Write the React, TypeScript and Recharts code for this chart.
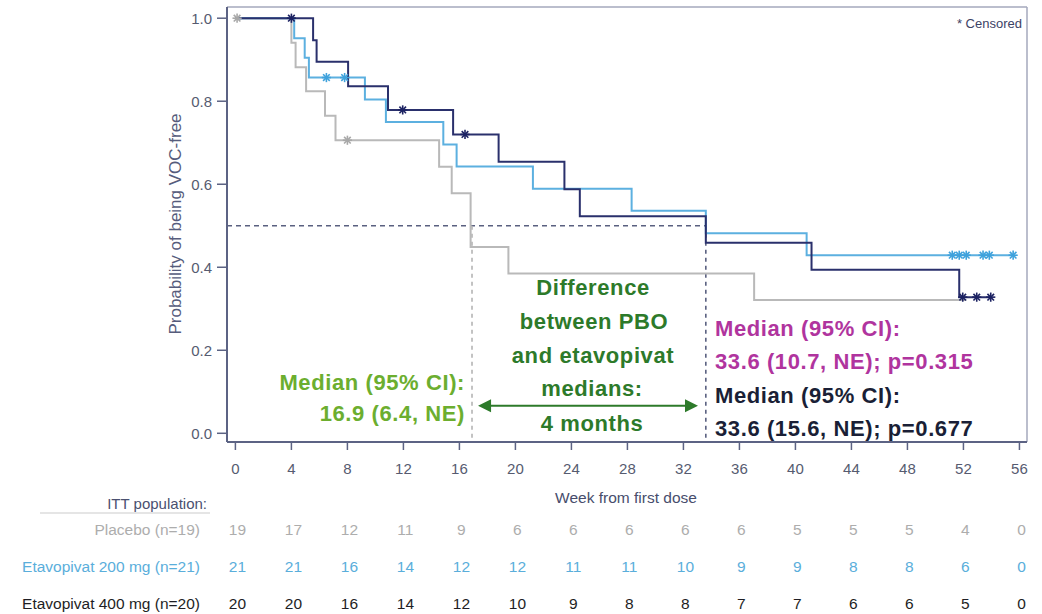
import React from 'react';
import { ComposedChart, Line, Scatter, XAxis, YAxis, ReferenceLine } from 'recharts';

// Axis ticks
const weekTicks = [0, 4, 8, 12, 16, 20, 24, 28, 32, 36, 40, 44, 48, 52, 56];
const probTicks = [0, 0.2, 0.4, 0.6, 0.8, 1.0];

// Kaplan-Meier step curves (week, probability of being VOC-free)
const placeboCurve = [
  { week: 0, p: 1.0 },
  { week: 4.0, p: 0.941 },
  { week: 4.3, p: 0.882 },
  { week: 5.05, p: 0.824 },
  { week: 6.4, p: 0.765 },
  { week: 7.15, p: 0.706 },
  { week: 14.55, p: 0.642 },
  { week: 15.45, p: 0.578 },
  { week: 16.8, p: 0.449 },
  { week: 19.5, p: 0.385 },
  { week: 37.05, p: 0.321 },
  { week: 52.2, p: 0.321 },
];
const eta200Curve = [
  { week: 0, p: 1.0 },
  { week: 4.2, p: 0.952 },
  { week: 4.95, p: 0.905 },
  { week: 5.25, p: 0.857 },
  { week: 9.25, p: 0.804 },
  { week: 10.75, p: 0.75 },
  { week: 14.85, p: 0.696 },
  { week: 15.8, p: 0.643 },
  { week: 21.25, p: 0.589 },
  { week: 28.3, p: 0.536 },
  { week: 33.6, p: 0.482 },
  { week: 40.8, p: 0.429 },
  { week: 55.6, p: 0.429 },
];
const eta400Curve = [
  { week: 0, p: 1.0 },
  { week: 5.55, p: 0.947 },
  { week: 5.8, p: 0.895 },
  { week: 8.05, p: 0.836 },
  { week: 10.9, p: 0.779 },
  { week: 15.55, p: 0.72 },
  { week: 18.8, p: 0.654 },
  { week: 23.5, p: 0.588 },
  { week: 24.6, p: 0.523 },
  { week: 33.6, p: 0.459 },
  { week: 41.15, p: 0.394 },
  { week: 51.7, p: 0.328 },
  { week: 54.0, p: 0.328 },
];

// Censored observations
const placeboCensored = [
  { week: 0.12, p: 1.0 },
  { week: 8.0, p: 0.706 },
];
const eta200Censored = [
  { week: 6.5, p: 0.857 },
  { week: 7.8, p: 0.857 },
  { week: 51.2, p: 0.429 },
  { week: 51.7, p: 0.429 },
  { week: 52.2, p: 0.429 },
  { week: 53.4, p: 0.429 },
  { week: 53.85, p: 0.429 },
  { week: 55.55, p: 0.429 },
];
const eta400Censored = [
  { week: 4.0, p: 1.0 },
  { week: 11.95, p: 0.779 },
  { week: 16.4, p: 0.72 },
  { week: 51.95, p: 0.328 },
  { week: 52.95, p: 0.328 },
  { week: 53.95, p: 0.328 },
];

// Numbers at risk under each week tick
const placeboAtRisk = [19, 17, 12, 11, 9, 6, 6, 6, 6, 6, 5, 5, 5, 4, 0];
const eta200AtRisk = [21, 21, 16, 14, 12, 12, 11, 11, 10, 9, 9, 8, 8, 6, 0];
const eta400AtRisk = [20, 20, 16, 14, 12, 10, 9, 8, 8, 7, 7, 6, 6, 5, 0];
const riskRowLabels = ['Placebo (n=19)', 'Etavopivat 200 mg (n=21)', 'Etavopivat 400 mg (n=20)'];

// Medians
const placeboMedian = 16.9;
const etavopivatMedian = 33.6;
const medianLevel = 0.5;

const X_MIN = -0.6;
const X_MAX = 56.54;
const Y_MIN = -0.021;
const Y_MAX = 1.027;

const FONT = "'Liberation Sans', Arial, Helvetica, sans-serif";
const C_AXIS = '#5c6384';
const C_TICK_TEXT = '#565b70';
const C_PLACEBO = '#b9b9b9';
const C_PLACEBO_TEXT = '#adadad';
const C_200 = '#5cb0e0';
const C_200_TEXT = '#5aaedb';
const C_400 = '#2a306c';
const C_400_TEXT = '#1e1e24';
const C_LIME = '#6cae2f';
const C_DKGREEN = '#2d7a2a';
const C_MAGENTA = '#b0349e';
const C_NAVYTEXT = '#1a1f36';

const riskColors = [C_PLACEBO_TEXT, C_200_TEXT, C_400_TEXT];
const riskRows = [placeboAtRisk, eta200AtRisk, eta400AtRisk];
const riskRowOffsets = [79, 116.5, 153];

const WeekTick = (props: any) => {
  const { x, y, payload } = props;
  const i = weekTicks.indexOf(payload.value);
  return (
    <g fontFamily={FONT}>
      <text x={x} y={y + 18.5} textAnchor="middle" dominantBaseline="central" fontSize={15} fill={C_TICK_TEXT}>
        {payload.value}
      </text>
      {riskRows.map((row, r) => (
        <text
          key={r}
          x={x + 2}
          y={y + riskRowOffsets[r]}
          textAnchor="middle"
          dominantBaseline="central"
          fontSize={15.5}
          fill={riskColors[r]}
        >
          {row[i]}
        </text>
      ))}
    </g>
  );
};

const censorMark = (color: string) => (props: any) => {
  const { cx, cy } = props;
  const r = 4.6;
  const d = r * 0.72;
  return (
    <g stroke={color} strokeWidth={1.6}>
      <line x1={cx} y1={cy - r} x2={cx} y2={cy + r} />
      <line x1={cx - r} y1={cy} x2={cx + r} y2={cy} />
      <line x1={cx - d} y1={cy - d} x2={cx + d} y2={cy + d} />
      <line x1={cx - d} y1={cy + d} x2={cx + d} y2={cy - d} />
    </g>
  );
};

const DoubleArrow = (props: any) => {
  const { x1, y1, x2, y2 } = props;
  const h = 13;
  const w = 6.5;
  return (
    <g>
      <line x1={x1 + h - 2} y1={y1} x2={x2 - h + 2} y2={y2} stroke={C_DKGREEN} strokeWidth={2} />
      <polygon points={`${x1},${y1} ${x1 + h},${y1 - w} ${x1 + h},${y1 + w}`} fill={C_DKGREEN} />
      <polygon points={`${x2},${y2} ${x2 - h},${y2 - w} ${x2 - h},${y2 + w}`} fill={C_DKGREEN} />
    </g>
  );
};

const boldText = { fontFamily: FONT, fontWeight: 700, fontSize: 22, letterSpacing: 0.6 } as const;

export default function App() {
  return (
    <div style={{ position: 'absolute', left: 0, top: 0, width: 1042, height: 614, background: '#fff' }}>
      <ComposedChart width={1042} height={614} margin={{ top: 7, right: 15, bottom: 0, left: 0 }}>
        <XAxis
          type="number"
          dataKey="week"
          domain={[X_MIN, X_MAX]}
          allowDataOverflow
          ticks={weekTicks}
          interval={0}
          height={172}
          tickSize={8}
          tickMargin={0}
          axisLine={{ stroke: C_AXIS, strokeWidth: 2 }}
          tickLine={{ stroke: C_AXIS, strokeWidth: 1.5 }}
          tick={<WeekTick />}
        />
        <YAxis
          type="number"
          dataKey="p"
          domain={[Y_MIN, Y_MAX]}
          allowDataOverflow
          ticks={probTicks}
          interval={0}
          width={227}
          tickSize={10}
          tickMargin={5}
          tickFormatter={(v: number) => v.toFixed(1)}
          axisLine={{ stroke: C_AXIS, strokeWidth: 2 }}
          tickLine={{ stroke: C_AXIS, strokeWidth: 1.5 }}
          tick={{ fill: C_TICK_TEXT, fontSize: 15, fontFamily: FONT }}
        />

        {/* frame top and right */}
        <ReferenceLine y={Y_MAX} stroke="#a4a9bd" strokeWidth={1.5} ifOverflow="visible" />
        <ReferenceLine x={X_MAX} stroke="#a4a9bd" strokeWidth={1.5} ifOverflow="visible" />

        {/* median guides */}
        <ReferenceLine
          segment={[{ x: X_MIN, y: medianLevel }, { x: etavopivatMedian, y: medianLevel }]}
          stroke="#5a6080"
          strokeWidth={1.6}
          strokeDasharray="5 4"
          ifOverflow="visible"
        />
        <ReferenceLine
          segment={[{ x: placeboMedian, y: medianLevel }, { x: placeboMedian, y: Y_MIN }]}
          stroke="#b4b4b4"
          strokeWidth={1.6}
          strokeDasharray="4 4"
          ifOverflow="visible"
        />
        <ReferenceLine
          segment={[{ x: etavopivatMedian, y: medianLevel }, { x: etavopivatMedian, y: Y_MIN }]}
          stroke="#5a6080"
          strokeWidth={1.6}
          strokeDasharray="4 4"
          ifOverflow="visible"
        />
        <ReferenceLine
          segment={[{ x: placeboMedian + 0.43, y: 0.0665 }, { x: etavopivatMedian - 0.56, y: 0.0665 }]}
          shape={DoubleArrow}
          ifOverflow="visible"
        />

        <Line data={placeboCurve} dataKey="p" type="stepAfter" stroke={C_PLACEBO} strokeWidth={2} dot={false} isAnimationActive={false} />
        <Line data={eta200Curve} dataKey="p" type="stepAfter" stroke={C_200} strokeWidth={2} dot={false} isAnimationActive={false} />
        <Line data={eta400Curve} dataKey="p" type="stepAfter" stroke={C_400} strokeWidth={2} dot={false} isAnimationActive={false} />

        <Scatter data={placeboCensored} dataKey="p" shape={censorMark('#a8a8a8')} isAnimationActive={false} />
        <Scatter data={eta200Censored} dataKey="p" shape={censorMark('#3fa2dc')} isAnimationActive={false} />
        <Scatter data={eta400Censored} dataKey="p" shape={censorMark('#1c2262')} isAnimationActive={false} />
      </ComposedChart>

      <svg
        width={1042}
        height={614}
        style={{ position: 'absolute', left: 0, top: 0, pointerEvents: 'none' }}
      >
        <text x={1022} y={23} textAnchor="end" dominantBaseline="central" fontFamily={FONT} fontSize={13} fill="#3c4265">
          * Censored
        </text>
        <text
          x={175}
          y={224}
          transform="rotate(-90 175 224)"
          textAnchor="middle"
          dominantBaseline="central"
          fontFamily={FONT}
          fontSize={17}
          fill="#565c7c"
        >
          Probability of being VOC-free
        </text>
        <text x={626} y={497} textAnchor="middle" dominantBaseline="central" fontFamily={FONT} fontSize={15.5} fill="#474d6c">
          Week from first dose
        </text>

        {/* numbers-at-risk header and row labels */}
        <text x={207} y={503} textAnchor="end" dominantBaseline="central" fontFamily={FONT} fontSize={15} fill="#4a5070">
          ITT population:
        </text>
        <line x1={40} y1={513} x2={210} y2={513} stroke="#dcdcdc" strokeWidth={1.5} />
        {riskRowLabels.map((label, r) => (
          <text
            key={label}
            x={200}
            y={450 + riskRowOffsets[r]}
            textAnchor="end"
            dominantBaseline="central"
            fontFamily={FONT}
            fontSize={15.5}
            fill={riskColors[r]}
          >
            {label}
          </text>
        ))}

        {/* placebo median */}
        <g {...boldText} fill={C_LIME} textAnchor="end" dominantBaseline="central">
          <text x={465} y={382}>Median (95% CI):</text>
          <text x={465} y={413.5}>{`${placeboMedian} (6.4, NE)`}</text>
        </g>

        {/* difference between medians */}
        <g {...boldText} fill={C_DKGREEN} textAnchor="middle" dominantBaseline="central">
          <text x={593} y={287}>Difference</text>
          <text x={594} y={321.5}>between PBO</text>
          <text x={593} y={355}>and etavopivat</text>
          <text x={592} y={388.5}>medians:</text>
          <text x={592} y={423}>4 months</text>
        </g>

        {/* etavopivat medians */}
        <g {...boldText} fill={C_MAGENTA} textAnchor="start" dominantBaseline="central">
          <text x={715} y={328}>Median (95% CI):</text>
          <text x={715} y={361.5}>{`${etavopivatMedian} (10.7, NE); p=0.315`}</text>
        </g>
        <g {...boldText} fill={C_NAVYTEXT} textAnchor="start" dominantBaseline="central">
          <text x={715} y={395}>Median (95% CI):</text>
          <text x={715} y={428.5}>{`${etavopivatMedian} (15.6, NE); p=0.677`}</text>
        </g>
      </svg>
    </div>
  );
}
